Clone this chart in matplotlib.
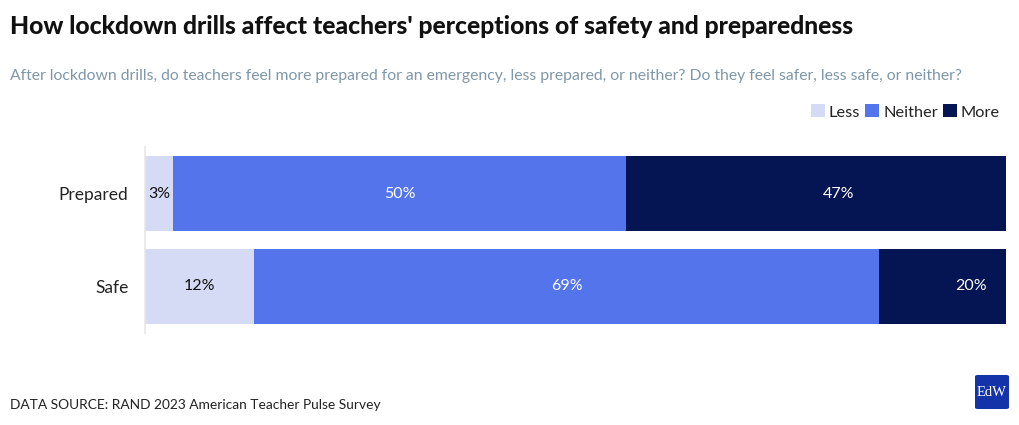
import numpy as np
import matplotlib.pyplot as plt
from matplotlib.patches import Patch, FancyBboxPatch

# data
categories = ['Prepared', 'Safe']
series = ['Less', 'Neither', 'More']
# bar lengths as drawn (share of the full bar)
bar_less = [3.3, 12.7]
bar_neither = [52.6, 72.6]
bar_more = [44.1, 14.7]
# percentages as printed on the bars
lbl_less = [3, 12]
lbl_neither = [50, 69]
lbl_more = [47, 20]

colors = ['#d5dbf5', '#5474eb', '#051452']
text_colors = ['#111111', 'white', 'white']
# the "More" labels sit a bit right of the segment centre in the original
label_shift = [[0, 0], [0, 0], [2.6, 3.3]]

plt.rcParams['font.family'] = ['Lato', 'DejaVu Sans']

fig = plt.figure(figsize=(10.2, 4.25), dpi=100)
ax = fig.add_axes([145/1020, 1-333/425, 861/1020, 186/425])

y = np.arange(len(categories))
widths = [bar_less, bar_neither, bar_more]
labels = [lbl_less, lbl_neither, lbl_more]
left = np.zeros(len(categories))
for s in range(len(series)):
    w = np.array(widths[s])
    ax.barh(y, w, left=left, height=0.806, color=colors[s], label=series[s])
    for i in range(len(categories)):
        ax.text(left[i] + w[i]/2 + label_shift[s][i], y[i], str(labels[s][i]) + '%',
                ha='center', va='center', fontsize=11.5, color=text_colors[s])
    left = left + w

ax.set_xlim(0, left.max())
ax.set_ylim(1.5, -0.5)
ax.set_yticks(y)
ax.set_yticklabels(categories, fontsize=12.5, color='#222222')
ax.tick_params(axis='y', length=0, pad=12)
ax.set_xticks([])
for sp in ['top', 'right', 'bottom']:
    ax.spines[sp].set_visible(False)
ax.spines['left'].set_color('#e6e6e6')
ax.spines['left'].set_linewidth(1.2)

fig.text(10/1020, 1-27/425, "How lockdown drills affect teachers' perceptions of safety and preparedness",
         fontsize=17.8, fontweight='black', color='#111111', va='center')
fig.text(10/1020, 1-76/425, "After lockdown drills, do teachers feel more prepared for an emergency, less prepared, or neither? Do they feel safer, less safe, or neither?",
         fontsize=11.35, color='#7f97a8', va='center')

handles = [Patch(facecolor=c, edgecolor='none', label=s) for c, s in zip(colors, series)]
fig.legend(handles=handles, loc='center right', bbox_to_anchor=(1000/1020, 1-112/425), ncol=3,
           frameon=False, fontsize=11.8, handlelength=0.85, handleheight=0.85,
           handletextpad=0.25, columnspacing=0.3, labelcolor='#222222',
           borderpad=0, borderaxespad=0)

fig.text(10/1020, 1-405/425, 'DATA SOURCE: RAND 2023 American Teacher Pulse Survey',
         fontsize=9.9, color='#222222', va='center')

logo = FancyBboxPatch((975/1020, 1-409/425), 34/1020, 34/425, boxstyle='round,pad=0,rounding_size=0.003',
                      transform=fig.transFigure, facecolor='#1533a9', edgecolor='none')
fig.patches.append(logo)
fig.text(992/1020, 1-392/425, 'EdW', fontsize=10.5, color='white', ha='center', va='center',
         family=['Liberation Serif', 'DejaVu Serif'])

fig.savefig('out.png', dpi=100, facecolor='white')
